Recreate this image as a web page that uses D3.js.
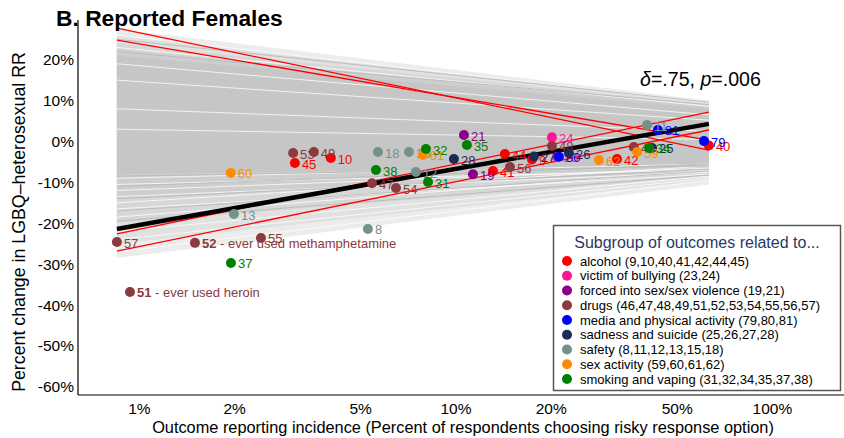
<!DOCTYPE html>
<html><head><meta charset="utf-8">
<script src="https://cdn.jsdelivr.net/npm/d3@7"></script>
<style>body{margin:0;background:#fff}svg{display:block;font-family:"Liberation Sans",Arial,Helvetica,sans-serif}</style>
</head><body><svg id="c" width="844" height="438"></svg>
<script>
// ---------------- data ----------------
const groupNames = ["alcohol (9,10,40,41,42,44,45)","victim of bullying (23,24)","forced into sex/sex violence (19,21)","drugs (46,47,48,49,51,52,53,54,55,56,57)","media and physical activity (79,80,81)","sadness and suicide (25,26,27,28)","safety (8,11,12,13,15,18)","sex activity (59,60,61,62)","smoking and vaping (31,32,34,35,37,38)"];
const groupKeys = ["alcohol","bullying","forced","drugs","media","sadness","safety","sex","smoking"];
const pointIds      = [9,10,40,41,42,44,45, 23,24, 19,21, 46,47,48,49,51,52,53,54,55,56,57, 79,80,81, 25,26,27,28, 8,11,12,13,15,18, 59,60,61,62, 31,32,34,35,37,38];
const pointGroup    = ["alcohol","alcohol","alcohol","alcohol","alcohol","alcohol","alcohol","bullying","bullying","forced","forced","drugs","drugs","drugs","drugs","drugs","drugs","drugs","drugs","drugs","drugs","drugs","media","media","media","sadness","sadness","sadness","sadness","safety","safety","safety","safety","safety","safety","sex","sex","sex","sex","smoking","smoking","smoking","smoking","smoking","smoking"];
const incidence     = [17.45,4.04,63.2,13.14,32.4,14.33,3.11, 20.93,20.18, 11.36,10.64, 36.6,5.45,20.18,3.57,0.937,1.503,3.07,6.49,2.43,14.87,0.852, 61.0,21.23,43.6, 41.8,22.84,17.7,9.89, 5.29,40.3,7.5,1.996,7.13,5.69, 37.5,1.95,7.89,28.4, 8.19,8.07,40.9,10.87,1.953,5.61];
const pctChange     = [-4.4,-4.06,-1.0,-7.24,-4.3,-3.08,-5.28, -3.8,1.0, -8.0,1.56, -1.37,-10.2,-1.12,-2.6,-36.8,-24.8,-2.84,-11.4,-23.6,-6.26,-24.6, 0.1,-3.74,2.8, -1.6,-2.9,-3.7,-4.3, -21.4,4.0,-7.48,-17.75,-2.6,-2.6, -2.6,-7.7,-3.3,-4.55, -9.93,-1.86,-1.6,-0.88,-29.7,-6.99];
const noteIds   = [52, 51];
const noteTexts = [" - ever used methamphetamine", " - ever used heroin"];

const xTicks = [1,2,5,10,20,50,100];
const yTicks = [20,10,0,-10,-20,-30,-40,-50,-60];

// fitted line and bounds: [pct at left end, pct at right end]
const lineEndsX = [0.852, 63.2];
const fitLine   = [-21.4, 4.3];
const redLines  = [[27.7,-2.1],[24.8,0.3],[-22.6,7.2],[-26.8,2.8]];
// null (permutation) fan envelopes, outer to inner: [upperLeft, lowerLeft, upperRight, lowerRight]
const fanLayers = [[27.5,-28.5,10,-10.5],[26,-25,9.6,-9.5],[24,-20,9,-8.5],[22.5,-14,8.5,-7.2],[21,-8,8,-6]];
// some visible individual streak lines within the fan [left, right]
const streakLight = [[-9,-5.5],[-10.5,-7],[-12,-6.5],[-13.5,-7.5],[-15,-6],[-16.5,-8],[-18.5,-7],[-22,-8.5],[-24,-9],[-27,-9.5],[26,9.5],[23,8.6],[19,6.5],[15,5.2],[8,2.5],[3,0.5]];
const streakDark  = [[-8.5,-6],[-11,-5.5],[-14,-6.8],[-17,-7.2],[-19.5,-8.2],[22,9],[25,9.6]];

// ---------------- drawing ----------------
const svg = d3.select("#c");
const x = d3.scaleLog().domain([0.642, 168.9]).range([78, 844]);
const y = d3.scaleLinear().domain([-62, 29.7]).range([395, 20]);
const color = d3.scaleOrdinal().domain(groupKeys)
  .range(["#ff0000","#ff1493","#8b008b","#8b3a3e","#0000ff","#1c2a57","#74918a","#ff8c00","#008000"]);
const fanFills = ["#ececec","#e1e1e1","#d7d7d7","#cecece","#c6c6c6"];

function fanPoly(f){
  return [[x(lineEndsX[0]),y(f[0])],[x(lineEndsX[1]),y(f[2])],[x(lineEndsX[1]),y(f[3])],[x(lineEndsX[0]),y(f[1])]];
}
const gFan = svg.append("g");
fanLayers.forEach((f,i)=>{
  gFan.append("polygon").attr("points", fanPoly(f).map(p=>p.join(",")).join(" ")).attr("fill", fanFills[i]);
});
gFan.selectAll("line.sl").data(streakLight).join("line").attr("class","sl")
  .attr("x1", x(lineEndsX[0])).attr("x2", x(lineEndsX[1]))
  .attr("y1", d=>y(d[0])).attr("y2", d=>y(d[1]))
  .attr("stroke", "#ffffff").attr("stroke-opacity", 0.75).attr("stroke-width", 1);
gFan.selectAll("line.sd").data(streakDark).join("line").attr("class","sd")
  .attr("x1", x(lineEndsX[0])).attr("x2", x(lineEndsX[1]))
  .attr("y1", d=>y(d[0])).attr("y2", d=>y(d[1]))
  .attr("stroke", "#bdbdbd").attr("stroke-width", 1);

// red bound lines
svg.append("g").selectAll("line").data(redLines).join("line")
  .attr("x1", x(lineEndsX[0])).attr("x2", x(lineEndsX[1]))
  .attr("y1", d=>y(d[0])).attr("y2", d=>y(d[1]))
  .attr("stroke", "#ff0000").attr("stroke-width", 1.3);
// fit line
svg.append("line")
  .attr("x1", x(lineEndsX[0])).attr("x2", x(lineEndsX[1]))
  .attr("y1", y(fitLine[0])).attr("y2", y(fitLine[1]))
  .attr("stroke", "#000").attr("stroke-width", 4.5);

// axes
const yAxis = d3.axisLeft(y).tickValues(yTicks).tickSize(0).tickPadding(4).tickFormat(d=>d+"%");
const gy = svg.append("g").attr("transform","translate(78,0)").call(yAxis);
gy.select(".domain").attr("d","M0,20V395").attr("stroke","#000").attr("stroke-width",1.2);
gy.selectAll("text").attr("font-size",15.5).attr("fill","#000").attr("font-family","inherit");
const xAxis = d3.axisBottom(x).tickValues(xTicks).tickSize(0).tickPadding(8).tickFormat(d=>d+"%");
const gx = svg.append("g").attr("transform","translate(0,395)").call(xAxis);
gx.select(".domain").attr("d","M78,0H844").attr("stroke","#000").attr("stroke-width",1.2);
gx.selectAll("text").attr("font-size",15.5).attr("fill","#000").attr("font-family","inherit");

function fitText(sel, w){
  const n = sel.node(); const cur = n.getComputedTextLength();
  const fs = parseFloat(sel.attr("font-size"));
  sel.attr("font-size", fs * w / cur);
}
const xt = svg.append("text").attr("x", 463).attr("y", 433).attr("text-anchor","middle")
  .attr("font-size",16).text("Outcome reporting incidence (Percent of respondents choosing risky response option)");
fitText(xt, 622);
const yt = svg.append("text").attr("transform","translate(25,222) rotate(-90)").attr("text-anchor","middle")
  .attr("font-size",16).text("Percent change in LGBQ\u2013heterosexual RR");
fitText(yt, 340);

// title
const tt = svg.append("text").attr("x",56).attr("y",26).attr("font-size",21).attr("font-weight","bold")
  .text("B. Reported Females");
fitText(tt, 227);

// delta annotation
const an = svg.append("text").attr("x",640).attr("y",86).attr("font-size",18);
an.append("tspan").attr("font-style","italic").text("\u03b4");
an.append("tspan").text("=.75, ");
an.append("tspan").attr("font-style","italic").text("p");
an.append("tspan").text("=.006");
fitText(an, 121);

// points
const pts = pointIds.map((id,i)=>({id, g:pointGroup[i], x:incidence[i], y:pctChange[i]}));
pts.sort((a,b)=>groupKeys.indexOf(a.g)-groupKeys.indexOf(b.g));
const gp = svg.append("g");
pts.forEach(p=>{
  gp.append("circle").attr("cx",x(p.x)).attr("cy",y(p.y)).attr("r",5).attr("fill",color(p.g));
  const t = gp.append("text").attr("x",x(p.x)+7).attr("y",y(p.y)).attr("dy","0.42em")
    .attr("font-size",13).attr("fill",color(p.g));
  const ni = noteIds.indexOf(p.id);
  if(ni>=0){
    t.append("tspan").attr("font-weight","bold").text(p.id);
    t.append("tspan").text(noteTexts[ni]);
  } else t.text(p.id);
});

// legend
const lg = svg.append("g");
lg.append("rect").attr("x",553.5).attr("y",225.5).attr("width",287).attr("height",165)
  .attr("fill","#fff").attr("stroke","#555").attr("stroke-width",1.5);
lg.append("text").attr("x",697).attr("y",248).attr("text-anchor","middle").attr("font-size",16)
  .attr("fill","#2b3866").text("Subgroup of outcomes related to...");
groupKeys.forEach((k,i)=>{
  const yy = 261 + i*14.75;
  lg.append("circle").attr("cx",567).attr("cy",yy).attr("r",5).attr("fill",color(k));
  lg.append("text").attr("x",580).attr("y",yy).attr("dy","0.36em").attr("font-size",13).attr("fill","#000").text(groupNames[i]);
});
</script></body></html>
